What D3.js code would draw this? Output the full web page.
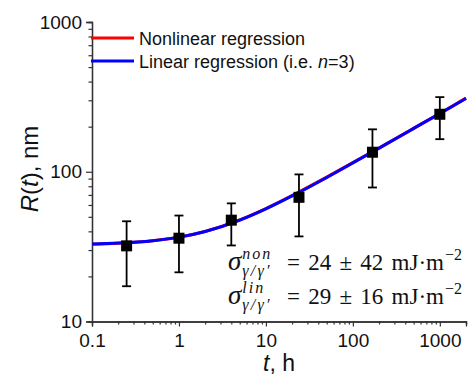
<!DOCTYPE html>
<html><head><meta charset="utf-8">
<script src="https://cdn.jsdelivr.net/npm/d3@7"></script>
<style>body{margin:0;background:#fff}svg{display:block}</style>
</head><body><svg id="c" width="474" height="382"></svg>
<script>
// ---- data ----
const times = [0.25, 1, 4, 24, 168, 1000];
const radius = [32, 36, 47.5, 67.5, 135, 242];
const errLow = [17.2, 21.3, 32.2, 37, 78.5, 165];
const errHigh = [46.7, 51, 61.5, 96, 192, 315];
const curveT = [0.1, 0.2, 0.5, 1, 2, 5, 10, 20, 50, 100, 200, 500, 1000, 2000];
const linearR = [32.96, 33.4, 34.67, 36.6, 39.94, 47.6, 56.6, 69.0, 91.6, 114.6, 143.9, 194.8, 245.1, 308.8];
const nonlinearR = [32.8, 33.3, 34.6, 36.5, 39.9, 47.6, 56.7, 69.2, 91.9, 114.9, 144.0, 194.6, 244.6, 310.0];
const xTickLabels = ["0.1", "1", "10", "100", "1000"];
const yTickLabels = ["10", "100", "1000"];
const legendLabels = ["Nonlinear regression", "Linear regression (i.e. "];
const annot = [
  {sup: "non", value: "24", err: "42"},
  {sup: "lin", value: "29", err: "16"}
];

const svg = d3.select("#c");
const x = d3.scaleLog().domain([0.1, 2000]).range([92, 466]);
const y = d3.scaleLog().domain([10, 1000]).range([321.5, 22]);
const sans = "Liberation Sans, Arial, sans-serif";
const serif = "Liberation Serif, Times New Roman, serif";

// axes
const xMinor = [];
for (let d = 0.1; d < 2000; d *= 10) for (let k = 2; k <= 9; k++) if (d * k <= 2000) xMinor.push(d * k);
const yMinor = [];
for (let d = 10; d < 1000; d *= 10) for (let k = 2; k <= 9; k++) yMinor.push(d * k);

const gx = svg.append("g").attr("transform", "translate(0,321.5)");
gx.call(d3.axisBottom(x).tickValues(xTickLabels.map(Number)).tickFormat((d, i) => xTickLabels[i]).tickSize(5).tickPadding(6));
gx.append("g").call(d3.axisBottom(x).tickValues(xMinor).tickFormat("").tickSize(3));
const gy = svg.append("g").attr("transform", "translate(92,0)");
gy.call(d3.axisLeft(y).tickValues(yTickLabels.map(Number)).tickFormat((d, i) => yTickLabels[i]).tickSize(6).tickPadding(4));
gy.append("g").call(d3.axisLeft(y).tickValues(yMinor).tickFormat("").tickSize(3.5));
svg.selectAll(".domain").attr("stroke", "#333").attr("stroke-width", 1.3);
svg.selectAll(".tick line").attr("stroke", "#333").attr("stroke-width", 1.2);
svg.selectAll(".tick text").attr("font-family", sans).attr("font-size", 19).attr("fill", "#111");
gx.selectAll(".tick text").attr("dy", "0.78em");

// curves
const line = d3.line().x(d => x(d[0])).y(d => y(d[1])).curve(d3.curveMonotoneX);
svg.append("path").datum(curveT.map((t, i) => [t, nonlinearR[i]]))
  .attr("d", line).attr("fill", "none").attr("stroke", "#ff0000").attr("stroke-width", 3.2);
svg.append("path").datum(curveT.map((t, i) => [t, linearR[i]]))
  .attr("d", line).attr("fill", "none").attr("stroke", "#0000ff").attr("stroke-width", 3);

// error bars and points
const pts = svg.append("g");
times.forEach((t, i) => {
  const cx = x(t);
  pts.append("line").attr("x1", cx).attr("x2", cx).attr("y1", y(errLow[i])).attr("y2", y(errHigh[i]))
    .attr("stroke", "#000").attr("stroke-width", 1.8);
  [errLow[i], errHigh[i]].forEach(v => pts.append("line").attr("x1", cx - 4.5).attr("x2", cx + 4.5)
    .attr("y1", y(v)).attr("y2", y(v)).attr("stroke", "#000").attr("stroke-width", 1.8));
  pts.append("rect").attr("x", cx - 5.5).attr("y", y(radius[i]) - 5.5).attr("width", 11).attr("height", 11).attr("fill", "#000");
});

// legend
const legColors = ["#ff0000", "#0000ff"];
const legY = [38, 61];
legendLabels.forEach((lab, i) => {
  svg.append("line").attr("x1", 91).attr("x2", 134).attr("y1", legY[i]).attr("y2", legY[i])
    .attr("stroke", legColors[i]).attr("stroke-width", 3);
  const tx = svg.append("text").attr("x", 139).attr("y", legY[i] + 6.5)
    .attr("font-family", sans).attr("font-size", 18).attr("fill", "#111").text(lab);
  if (i === 1) {
    tx.append("tspan").attr("font-style", "italic").text("n");
    tx.append("tspan").text("=3)");
  }
});

// axis titles
const xt = svg.append("text").attr("x", 279).attr("y", 371).attr("text-anchor", "middle")
  .attr("font-family", sans).attr("font-size", 23).attr("fill", "#111");
xt.append("tspan").attr("font-style", "italic").text("t");
xt.append("tspan").text(", h");
const yt = svg.append("text").attr("transform", "translate(38,169) rotate(-90)").attr("text-anchor", "middle")
  .attr("font-family", sans).attr("font-size", 24).attr("fill", "#111");
yt.append("tspan").attr("font-style", "italic").text("R");
yt.append("tspan").text("(");
yt.append("tspan").attr("font-style", "italic").text("t");
yt.append("tspan").text("), nm");

// annotations
const baseY = [270, 304];
annot.forEach((a, i) => {
  const g = svg.append("g").attr("font-family", serif).attr("fill", "#111");
  const by = baseY[i];
  const s = g.append("text").attr("x", 228).attr("y", by).attr("font-size", 27).attr("font-style", "italic").text("σ");
  const sx = 228 + s.node().getComputedTextLength() + 1;
  const sup = g.append("text").attr("x", sx).attr("y", by - 11).attr("font-size", 16).attr("font-style", "italic")
    .attr("letter-spacing", 2).text(a.sup);
  const sub = g.append("text").attr("x", sx).attr("y", by + 6).attr("font-size", 16).attr("font-style", "italic")
    .attr("letter-spacing", 2.2).text("γ/γ′");
  const w = Math.max(sup.node().getComputedTextLength(), sub.node().getComputedTextLength());
  const mx0 = Math.max(sx + w + 8, 287);
  const main = g.append("text").attr("x", mx0).attr("y", by).attr("font-size", 23).attr("word-spacing", 2.5)
    .text("= " + a.value + " ± " + a.err + " mJ·m");
  const mx = mx0 + main.node().getComputedTextLength();
  g.append("text").attr("x", mx + 1).attr("y", by - 10).attr("font-size", 16).text("−2");
});
</script></body></html>
